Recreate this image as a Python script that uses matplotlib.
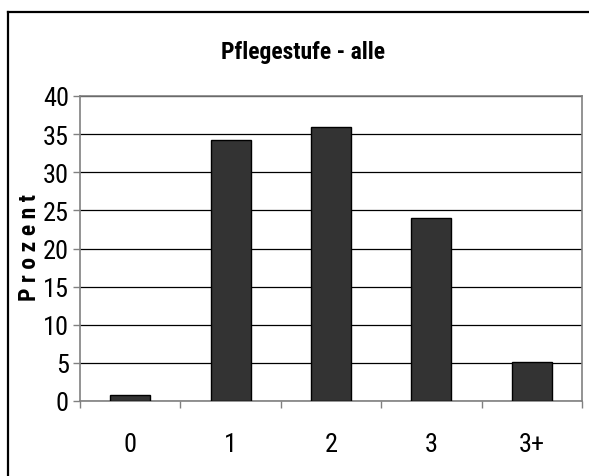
import matplotlib
matplotlib.use("Agg")
import matplotlib.pyplot as plt
from matplotlib.lines import Line2D
from matplotlib.ticker import FixedLocator
import numpy as np

# Anteil je Pflegestufe
categories = ["0", "1", "2", "3", "3+"]
values = [0.8, 34.2, 36.0, 24.0, 5.1]
y_ticks = [0, 5, 10, 15, 20, 25, 30, 35, 40]

plt.rcParams["font.family"] = ["Liberation Sans Narrow", "Roboto Condensed", "Archivo Narrow", "DejaVu Sans"]

W, H = 589, 477
fig = plt.figure(figsize=(W / 100, H / 100), dpi=100)
fig.patch.set_facecolor("white")

# plot area in pixel geometry
left, right, top, bottom = 80, 582, 97, 402
ax = fig.add_axes([left / W, (H - bottom) / H, (right - left) / W, (bottom - top) / H])

x = np.arange(len(categories))
ax.bar(x, values, width=0.4, color="#333333", edgecolor="black", linewidth=1.0, zorder=3)

ax.set_xlim(-0.5, len(categories) - 0.5)
ax.set_ylim(0, 40)
ax.set_yticks(y_ticks)
ax.set_yticklabels([str(t) for t in y_ticks], fontsize=19)
ax.yaxis.grid(True, color="black", linewidth=0.9, zorder=0)
ax.tick_params(axis="y", direction="out", length=5, width=1, color="#808080", pad=3)

ax.set_xticks(x)
ax.set_xticklabels(categories, fontsize=19)
ax.tick_params(axis="x", which="major", length=0, pad=22)
ax.xaxis.set_minor_locator(FixedLocator(np.arange(-0.5, len(categories), 1.0)))
ax.tick_params(axis="x", which="minor", direction="out", length=5, width=1, color="#808080")

for s in ax.spines.values():
    s.set_color("#808080")
    s.set_linewidth(1.2)

fig.text(303 / W, 1 - 52 / H, "Pflegestufe - alle", ha="center", va="center",
         fontsize=17, fontweight="bold")
fig.text(29 / W, 1 - 248 / H, "P r o z e n t", ha="center", va="center",
         rotation=90, fontsize=17, fontweight="bold")

# frame of the chart (top and left edges)
fig.add_artist(Line2D([8 / W, 1.0], [1 - 13 / H, 1 - 13 / H], color="black", linewidth=1.6,
                      transform=fig.transFigure))
fig.add_artist(Line2D([8 / W, 8 / W], [1 - 13 / H, 0.0], color="black", linewidth=1.6,
                      transform=fig.transFigure))

fig.savefig("out.png", dpi=100)
